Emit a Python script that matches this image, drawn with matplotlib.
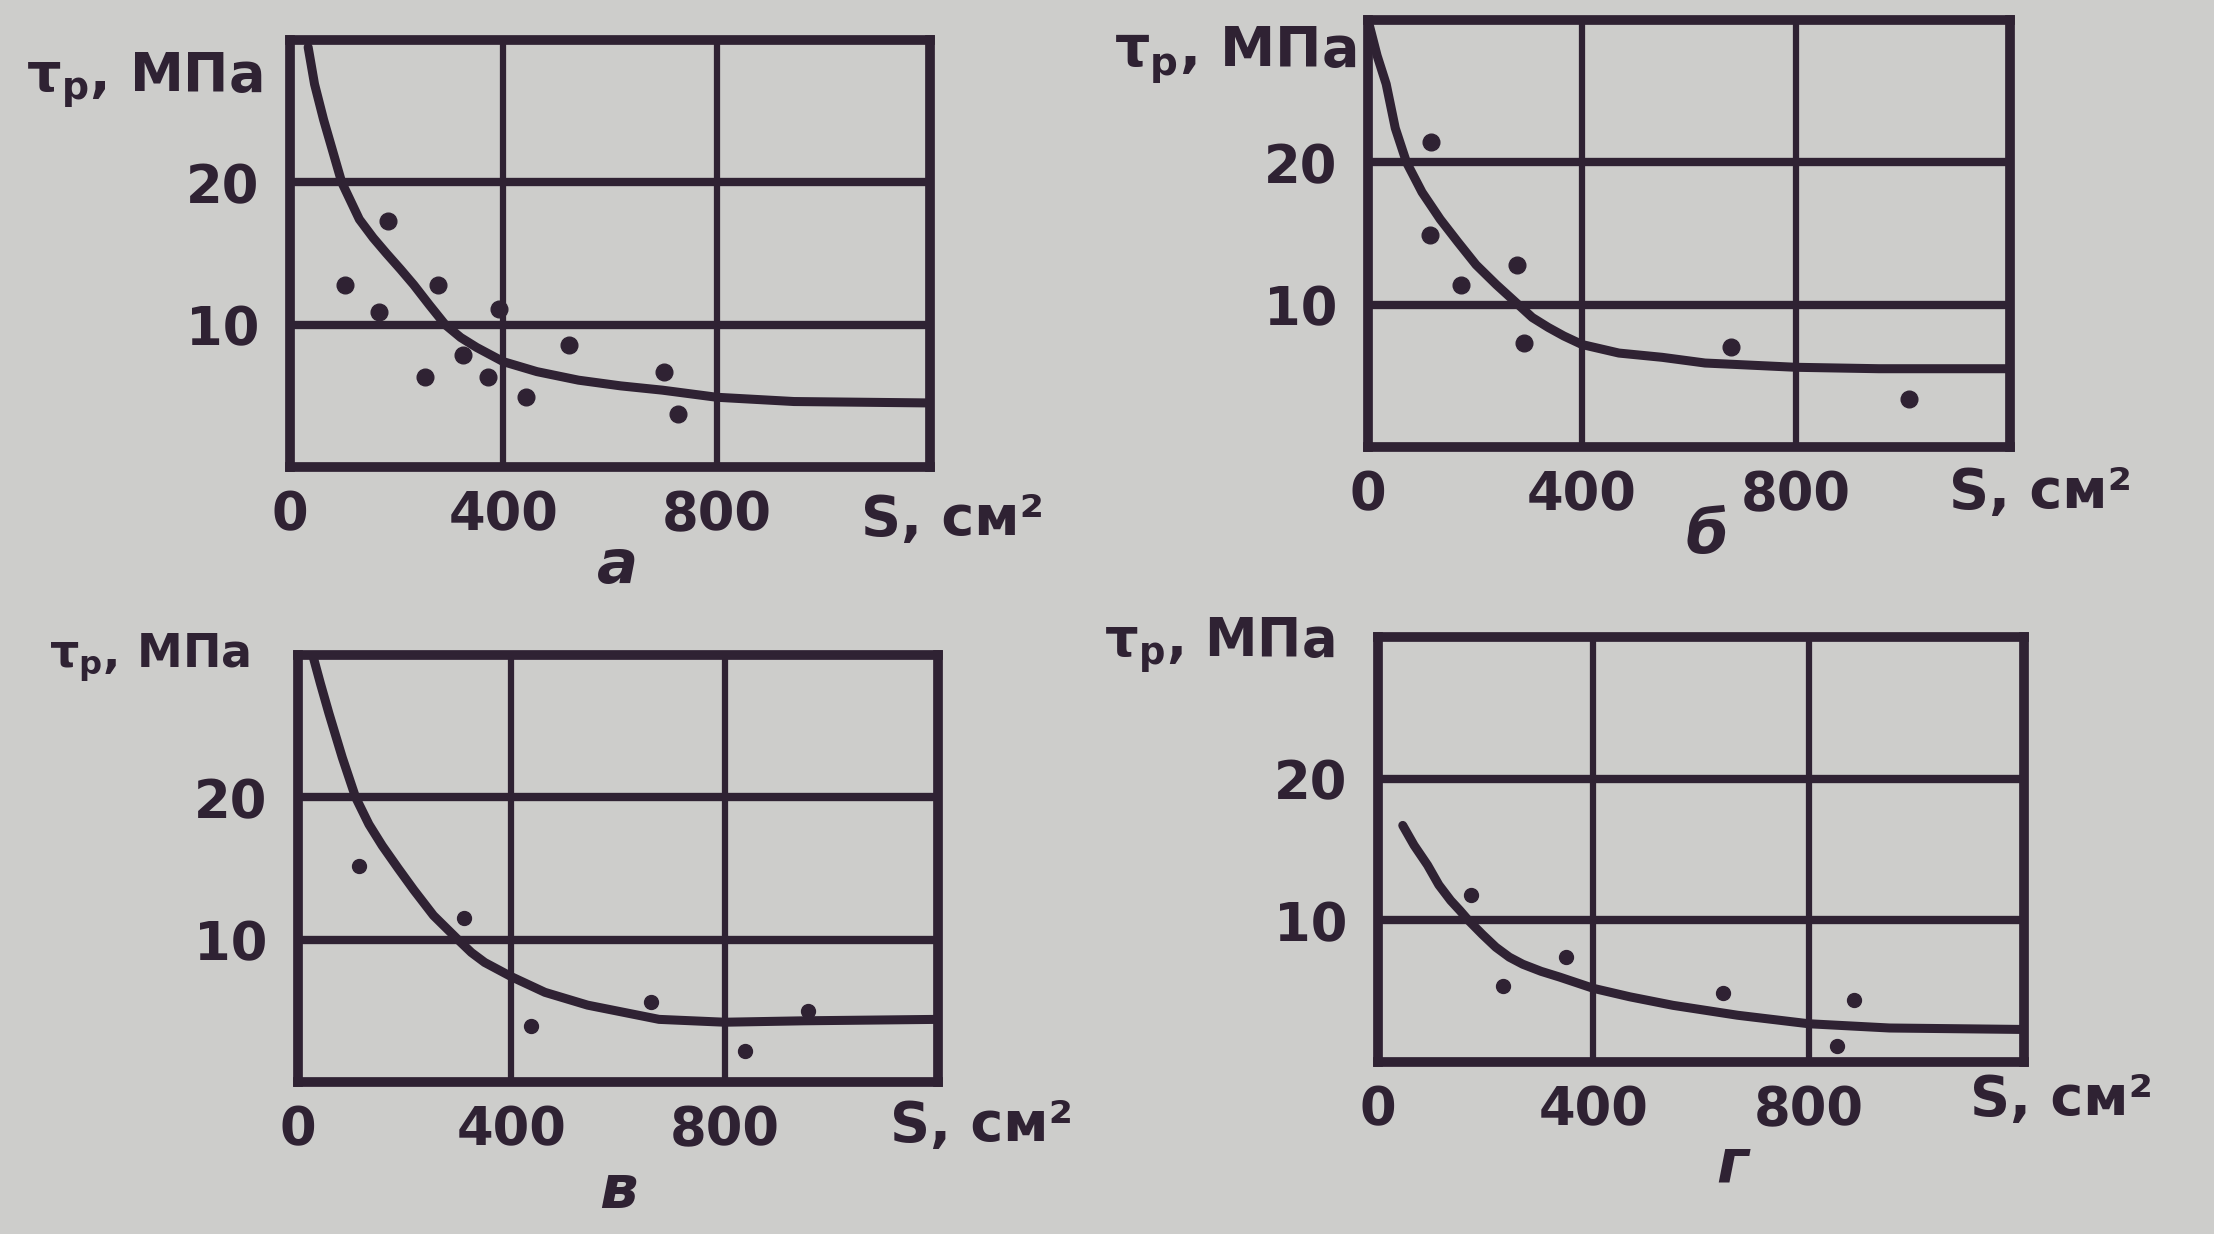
import matplotlib.pyplot as plt

plt.rcParams['font.family'] = ['DejaVu Sans']
plt.rcParams['mathtext.fontset'] = 'dejavusans'

# Data (S, cm^2 ; tau_p, MPa)
# panel "а"
a_pts_x = [183, 104, 278, 166, 392, 524, 325, 253, 371, 443, 702, 728]
a_pts_y = [17.3, 12.8, 12.8, 10.9, 11.1, 8.6, 7.9, 6.3, 6.3, 4.9, 6.7, 3.7]
a_curve_x = [34, 46, 63, 97, 130, 156, 181, 207, 232, 261, 291, 320, 350, 375,
             400, 463, 541, 620, 698, 800, 945, 1200]
a_curve_y = [29.5, 26.9, 24.4, 20.0, 17.4, 16.1, 15.0, 13.9, 12.8, 11.4, 10.0,
             9.1, 8.4, 7.9, 7.4, 6.7, 6.1, 5.7, 5.4, 4.9, 4.6, 4.5]

# panel "б"
b_pts_x = [118, 116, 278, 173, 291, 679, 1011]
b_pts_y = [21.4, 14.9, 12.8, 11.4, 7.3, 7.0, 3.4]
b_curve_x = [2, 17, 34, 51, 72, 101, 135, 168, 202, 240, 278, 307, 337, 366,
             400, 469, 550, 630, 800, 955, 1200]
b_curve_y = [29.7, 27.5, 25.5, 22.4, 20.0, 17.9, 16.0, 14.4, 12.8, 11.4, 10.1,
             9.1, 8.4, 7.8, 7.2, 6.6, 6.3, 5.9, 5.6, 5.5, 5.5]

# panel "в"
c_pts_x = [115, 312, 436, 661, 956, 839]
c_pts_y = [15.2, 11.5, 3.9, 5.6, 5.0, 2.2]
c_curve_x = [29, 42, 58, 83, 108, 133, 158, 188, 217, 254, 300, 325, 350, 375,
             400, 463, 543, 677, 800, 949, 1200]
c_curve_y = [29.8, 28.0, 25.9, 22.8, 20.0, 18.1, 16.6, 15.0, 13.5, 11.7, 10.0,
             9.1, 8.4, 7.9, 7.4, 6.3, 5.4, 4.4, 4.2, 4.3, 4.4]

# panel "г"
d_pts_x = [173, 349, 232, 640, 885, 852]
d_pts_y = [11.8, 7.4, 5.4, 4.9, 4.4, 1.1]
d_curve_x = [46, 67, 92, 113, 135, 152, 168, 194, 219, 244, 269, 303, 337, 400,
             468, 548, 668, 800, 950, 1192]
d_curve_y = [16.7, 15.3, 13.9, 12.5, 11.4, 10.7, 10.0, 9.0, 8.1, 7.4, 6.9, 6.4,
             6.0, 5.2, 4.6, 4.0, 3.3, 2.7, 2.4, 2.3]

x_ticks = [0, 400, 800]
y_ticks = [10, 20]
letters = ['а', 'б', 'в', 'г']

ink = '#2f2233'
paper = '#cdcdcb'

W, H = 2214, 1234
fig = plt.figure(figsize=(W / 100, H / 100), dpi=100, facecolor=paper)


def px(x, y):
    return x / W, 1 - y / H


def panel(box, px_x, px_y, cx, cy, msize, letter, letter_xy, ylab_xy, ylab_size, s_xy):
    x1, y1, x2, y2 = box
    ax = fig.add_axes([x1 / W, 1 - y2 / H, (x2 - x1) / W, (y2 - y1) / H])
    ax.set_facecolor(paper)
    ax.set_xlim(0, 1200)
    ax.set_ylim(0, 30)
    for s in ax.spines.values():
        s.set_linewidth(7)
        s.set_color(ink)
    ax.set_xticks(x_ticks)
    ax.set_yticks(y_ticks)
    ax.set_xticklabels([str(t) for t in x_ticks], fontweight='bold')
    ax.set_yticklabels([str(t) for t in y_ticks], fontweight='bold')
    ax.tick_params(length=0, labelsize=38, colors=ink, labelcolor=ink)
    ax.tick_params(axis='x', pad=16)
    ax.tick_params(axis='y', pad=22)
    ax.xaxis.grid(True, color=ink, linewidth=4.5)
    ax.yaxis.grid(True, color=ink, linewidth=6)
    ax.set_axisbelow(True)

    ax.plot(cx, cy, color=ink, linewidth=6.5, solid_capstyle='round',
            solid_joinstyle='round')
    ax.plot(px_x, px_y, 'o', color=ink, markersize=msize)

    fig.text(*px(*letter_xy), letter, fontsize=44, color=ink,
             ha='center', va='center', style='italic', fontweight='bold')
    fig.text(*px(*ylab_xy), r'$\mathbf{\tau_{р}}$, МПа', fontsize=ylab_size,
             color=ink, ha='right', va='baseline', fontweight='bold')
    fig.text(*px(*s_xy), 'S, см²', fontsize=40, color=ink,
             ha='left', va='baseline', fontweight='bold')
    return ax


panel((290, 40, 930, 467), a_pts_x, a_pts_y, a_curve_x, a_curve_y, 12,
      letters[0], (618, 567), (262, 92), 39, (861, 535))
panel((1368, 20, 2010, 447), b_pts_x, b_pts_y, b_curve_x, b_curve_y, 12,
      letters[1], (1707, 537), (1356, 66), 40, (1949, 508))
panel((298, 655, 938, 1082), c_pts_x, c_pts_y, c_curve_x, c_curve_y, 10,
      letters[2], (618, 1192), (250, 668), 33, (890, 1141))
panel((1378, 637, 2024, 1062), d_pts_x, d_pts_y, d_curve_x, d_curve_y, 10,
      letters[3], (1732, 1166), (1334, 657), 38, (1970, 1115))

fig.savefig('out.png', dpi=100, facecolor=paper)
